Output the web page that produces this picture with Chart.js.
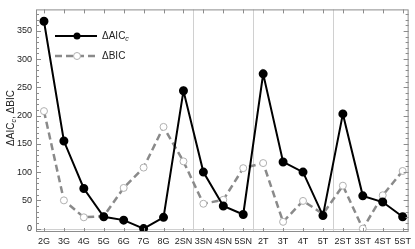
<!DOCTYPE html>
<html>
<head>
<meta charset="utf-8">
<script src="https://cdn.jsdelivr.net/npm/chart.js@4"></script>
<style>
  body { margin: 0; background: #fff; }
  #wrap { width: 415px; height: 249px; }
</style>
</head>
<body>
<div id="wrap"><canvas id="myChart"></canvas></div>
<script>
const models = ["2G", "3G", "4G", "5G", "6G", "7G", "8G", "2SN", "3SN", "4SN", "5SN",
  "2T", "3T", "4T", "5T", "2ST", "3ST", "4ST", "5ST"];
const deltaAIC = [367, 155, 71, 21, 15, 0, 20, 244, 100, 40, 25, 274, 118, 100, 23, 203, 58, 47, 21];
const deltaBIC = [208, 50, 20, 22, 72, 108, 180, 119, 44, 51, 107, 116, 12, 49, 26, 76, 0, 59, 102];
const yTicks = [0, 50, 100, 150, 200, 250, 300, 350];
const groupBreaks = [7.5, 10.5, 14.5];

const font = "'Liberation Sans', Arial, sans-serif";

// frame, inward ticks, grid lines, legend and axis title
const framePlugin = {
  id: "frame",
  beforeDatasetsDraw: (chart) => {
    const ctx = chart.ctx;
    const a = chart.chartArea;
    const x = chart.scales.x;
    const y = chart.scales.y;
    ctx.save();
    ctx.strokeStyle = "#d0d0d0";
    ctx.lineWidth = 1;
    groupBreaks.forEach((b) => {
      const px = Math.round(x.getPixelForValue(b)) + 0.5;
      ctx.beginPath();
      ctx.moveTo(px, a.top);
      ctx.lineTo(px, a.bottom);
      ctx.stroke();
    });
    const py0 = Math.round(y.getPixelForValue(0)) + 0.5;
    ctx.beginPath();
    ctx.moveTo(a.left, py0);
    ctx.lineTo(a.right, py0);
    ctx.stroke();
    ctx.restore();
  },
  afterDraw: (chart) => {
    const ctx = chart.ctx;
    const a = chart.chartArea;
    const x = chart.scales.x;
    const y = chart.scales.y;
    ctx.save();
    ctx.strokeStyle = "#8c8c8c";
    ctx.lineWidth = 1;
    ctx.strokeRect(a.left + 0.5, a.top + 0.5, a.right - a.left - 1, a.bottom - a.top - 1);

    // y ticks (major every 50, minor every 10)
    for (let v = 0; v <= 380; v += 10) {
      const py = Math.round(y.getPixelForValue(v)) + 0.5;
      const len = v % 50 === 0 ? 5 : 3;
      ctx.beginPath();
      ctx.moveTo(a.left, py);
      ctx.lineTo(a.left + len, py);
      ctx.moveTo(a.right, py);
      ctx.lineTo(a.right - len, py);
      ctx.stroke();
    }
    // x ticks
    models.forEach((m, i) => {
      const px = Math.round(x.getPixelForValue(i)) + 0.5;
      ctx.beginPath();
      ctx.moveTo(px, a.bottom);
      ctx.lineTo(px, a.bottom - 4);
      ctx.moveTo(px, a.top);
      ctx.lineTo(px, a.top + 4);
      ctx.stroke();
    });

    // legend
    ctx.lineWidth = 2;
    ctx.strokeStyle = "#000";
    ctx.beginPath();
    ctx.moveTo(55, 36);
    ctx.lineTo(97, 36);
    ctx.stroke();
    ctx.fillStyle = "#000";
    ctx.beginPath();
    ctx.arc(77, 36, 3.5, 0, Math.PI * 2);
    ctx.fill();
    ctx.fillStyle = "#222";
    ctx.textBaseline = "middle";
    ctx.textAlign = "left";
    ctx.font = "10px " + font;
    ctx.fillText("ΔAIC", 102, 36);
    const wl = ctx.measureText("ΔAIC").width;
    ctx.font = "italic 7px " + font;
    ctx.fillText("c", 102 + wl, 39);

    ctx.strokeStyle = "#8a8a8a";
    ctx.lineWidth = 2.5;
    ctx.setLineDash([7, 4]);
    ctx.beginPath();
    ctx.moveTo(55, 56);
    ctx.lineTo(97, 56);
    ctx.stroke();
    ctx.setLineDash([]);
    ctx.fillStyle = "#fff";
    ctx.strokeStyle = "#b0b0b0";
    ctx.lineWidth = 1;
    ctx.beginPath();
    ctx.arc(77, 56, 3.5, 0, Math.PI * 2);
    ctx.fill();
    ctx.stroke();
    ctx.fillStyle = "#222";
    ctx.font = "10px " + font;
    ctx.fillText("ΔBIC", 102, 56);

    // y axis title
    ctx.translate(11, 118);
    ctx.rotate(-Math.PI / 2);
    const p1 = "ΔAIC";
    const p2 = ", ΔBIC";
    ctx.font = "10px " + font;
    const w1 = ctx.measureText(p1).width;
    ctx.font = "italic 7px " + font;
    const ws = ctx.measureText("c").width;
    ctx.font = "10px " + font;
    const w2 = ctx.measureText(p2).width;
    const sx = -(w1 + ws + w2) / 2;
    ctx.fillText(p1, sx, 0);
    ctx.font = "italic 7px " + font;
    ctx.fillText("c", sx + w1, 3);
    ctx.font = "10px " + font;
    ctx.fillText(p2, sx + w1 + ws, 0);
    ctx.restore();
  }
};

const ctx = document.getElementById("myChart").getContext("2d");
const myChart = new Chart(ctx, {
  type: "line",
  data: {
    datasets: [
      {
        label: "ΔAICc",
        data: deltaAIC.map((v, i) => ({ x: i, y: v })),
        borderColor: "#000",
        borderWidth: 2,
        pointBackgroundColor: "#000",
        pointBorderColor: "#000",
        pointRadius: 3.5,
        tension: 0,
      },
      {
        label: "ΔBIC",
        data: deltaBIC.map((v, i) => ({ x: i, y: v })),
        borderColor: "#8a8a8a",
        borderWidth: 2.5,
        borderDash: [7, 4],
        pointBackgroundColor: "#fff",
        pointBorderColor: "#b0b0b0",
        pointBorderWidth: 1,
        pointRadius: 3.5,
        tension: 0,
      },
    ],
  },
  options: {
    responsive: true,
    maintainAspectRatio: false,
    animation: false,
    layout: { padding: { top: 0, right: 2, left: 0, bottom: 0 } },
    plugins: { legend: { display: false }, tooltip: { enabled: false } },
    scales: {
      x: {
        type: "linear",
        min: -0.4,
        max: 18.3,
        afterBuildTicks: (s) => { s.ticks = models.map((m, i) => ({ value: i })); },
        afterFit: (s) => { s.height = 17; },
        grid: { display: false, drawTicks: false },
        border: { display: false },
        ticks: {
          autoSkip: false,
          maxRotation: 0,
          padding: 4,
          color: "#222",
          font: { family: font, size: 9 },
          callback: (v) => models[v],
        },
      },
      y: {
        min: -6,
        max: 388,
        afterBuildTicks: (s) => { s.ticks = yTicks.map((v) => ({ value: v })); },
        afterFit: (s) => { s.width = 36; },
        grid: { display: false, drawTicks: false },
        border: { display: false },
        ticks: {
          padding: 4,
          color: "#222",
          font: { family: font, size: 9 },
        },
      },
    },
  },
  plugins: [framePlugin],
});
</script>
</body>
</html>
